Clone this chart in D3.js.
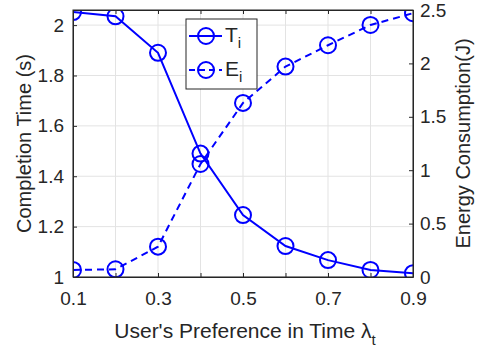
<!DOCTYPE html>
<html><head><meta charset="utf-8">
<script src="https://cdn.jsdelivr.net/npm/d3@7"></script>
<style>
html,body{margin:0;padding:0;background:#fff;}
svg text{font-family:"Liberation Sans",Arial,Helvetica,sans-serif;fill:#262626;}
</style></head>
<body><svg id="c" width="486" height="352"></svg>
<script>
const lambdaT = [0.1,0.2,0.3,0.4,0.5,0.6,0.7,0.8,0.9];
const timeT = [2.052,2.035,1.89,1.49,1.246,1.123,1.067,1.028,1.015];
const energyE = [0.066,0.072,0.284,1.058,1.63,1.97,2.17,2.36,2.47];
const xTickLabels = [0.1,0.3,0.5,0.7,0.9];
const xGrid = [0.1,0.2,0.3,0.4,0.5,0.6,0.7,0.8,0.9];
const leftTicks = [1,1.2,1.4,1.6,1.8,2];
const rightTicks = [0,0.5,1,1.5,2,2.5];

const svg = d3.select("#c");
const L=73,R=413,T=10,B=277;
const x = d3.scaleLinear().domain([0.1,0.9]).range([L,R]);
const yL = d3.scaleLinear().domain([1,2.06]).range([B,T]);
const yR = d3.scaleLinear().domain([0,2.5]).range([B,T]);
const blue="#0000ff", axc="#262626";

// grid
const g = svg.append("g");
g.selectAll(".gx").data(xGrid).enter().append("line")
  .attr("x1",d=>x(d)).attr("x2",d=>x(d)).attr("y1",T).attr("y2",B)
  .attr("stroke","#e3e3e3").attr("stroke-width",1);
g.selectAll(".gy").data(leftTicks).enter().append("line")
  .attr("x1",L).attr("x2",R).attr("y1",d=>yL(d)).attr("y2",d=>yL(d))
  .attr("stroke","#e3e3e3").attr("stroke-width",1);

// clip
svg.append("clipPath").attr("id","pc").append("rect")
  .attr("x",L).attr("y",T).attr("width",R-L).attr("height",B-T);

const plot = svg.append("g").attr("clip-path","url(#pc)");
const lineT = d3.line().x((d,i)=>x(lambdaT[i])).y(d=>yL(d));
const lineE = d3.line().x((d,i)=>x(lambdaT[i])).y(d=>yR(d));
plot.append("path").attr("d",lineT(timeT)).attr("fill","none")
  .attr("stroke",blue).attr("stroke-width",2);
plot.selectAll(".mt").data(timeT).enter().append("circle")
  .attr("cx",(d,i)=>x(lambdaT[i])).attr("cy",d=>yL(d)).attr("r",8)
  .attr("fill","none").attr("stroke",blue).attr("stroke-width",2);
plot.append("path").attr("d",lineE(energyE)).attr("fill","none")
  .attr("stroke",blue).attr("stroke-width",2).attr("stroke-dasharray","7,5");
plot.selectAll(".me").data(energyE).enter().append("circle")
  .attr("cx",(d,i)=>x(lambdaT[i])).attr("cy",d=>yR(d)).attr("r",8)
  .attr("fill","none").attr("stroke",blue).attr("stroke-width",2);

// axes
const fs=19;
const xa = d3.axisBottom(x).tickValues(xGrid).tickSizeInner(-4).tickSizeOuter(0)
  .tickFormat(d=>xTickLabels.some(v=>Math.abs(v-d)<1e-9)?d3.format(".1f")(d):"");
const xag = svg.append("g").attr("transform",`translate(0,${B})`).call(xa);
xag.selectAll("text").attr("font-size",fs).attr("dy",null).attr("y",28);
const xat = svg.append("g").attr("transform",`translate(0,${T})`)
  .call(d3.axisTop(x).tickValues(xGrid).tickSizeInner(-4).tickSizeOuter(0).tickFormat(""));
const ya = svg.append("g").attr("transform",`translate(${L},0)`)
  .call(d3.axisLeft(yL).tickValues(leftTicks).tickSizeInner(-4).tickSizeOuter(0).tickFormat(d3.format("~g")));
ya.selectAll("text").attr("font-size",fs).attr("x",-9);
const yra = svg.append("g").attr("transform",`translate(${R},0)`)
  .call(d3.axisRight(yR).tickValues(rightTicks).tickSizeInner(-4).tickSizeOuter(0).tickFormat(d3.format("~g")));
yra.selectAll("text").attr("font-size",fs).attr("x",7);
[xag,xat,ya,yra].forEach(a=>{
  a.selectAll("line").attr("stroke",axc);
  a.select(".domain").attr("stroke",axc);
  a.selectAll("text").attr("fill",axc).attr("font-family",null);
});
svg.append("rect").attr("x",L).attr("y",T).attr("width",R-L).attr("height",B-T)
  .attr("fill","none").attr("stroke",axc).attr("stroke-width",1);

// labels
const lfs=20;
const xl = svg.append("text").attr("x",(L+R)/2+2).attr("y",338).attr("text-anchor","middle").attr("font-size",21);
xl.append("tspan").text("User's Preference in Time λ");
xl.append("tspan").text("t").attr("font-size",15).attr("dy",7);
svg.append("text").attr("transform",`translate(31,${(T+B)/2}) rotate(-90)`)
  .attr("text-anchor","middle").attr("font-size",lfs).text("Completion Time (s)");
svg.append("text").attr("transform",`translate(470,${(T+B)/2}) rotate(-90)`)
  .attr("text-anchor","middle").attr("font-size",lfs).text("Energy Consumption(J)");

// legend
const leg = svg.append("g");
leg.append("rect").attr("x",186).attr("y",19).attr("width",71).attr("height",70)
  .attr("fill","#fff").attr("stroke",axc).attr("stroke-width",1);
const rows=[{n:"T",y:36,dash:null},{n:"E",y:70,dash:"6,4"}];
rows.forEach(r=>{
  leg.append("line").attr("x1",189).attr("x2",222).attr("y1",r.y).attr("y2",r.y)
    .attr("stroke",blue).attr("stroke-width",2).attr("stroke-dasharray",r.dash);
  leg.append("circle").attr("cx",206).attr("cy",r.y).attr("r",8)
    .attr("fill","none").attr("stroke",blue).attr("stroke-width",2);
  const t=leg.append("text").attr("x",225).attr("y",r.y+6).attr("font-size",21);
  t.append("tspan").text(r.n);
  t.append("tspan").text("i").attr("font-size",15).attr("dy",6);
});
</script></body></html>
